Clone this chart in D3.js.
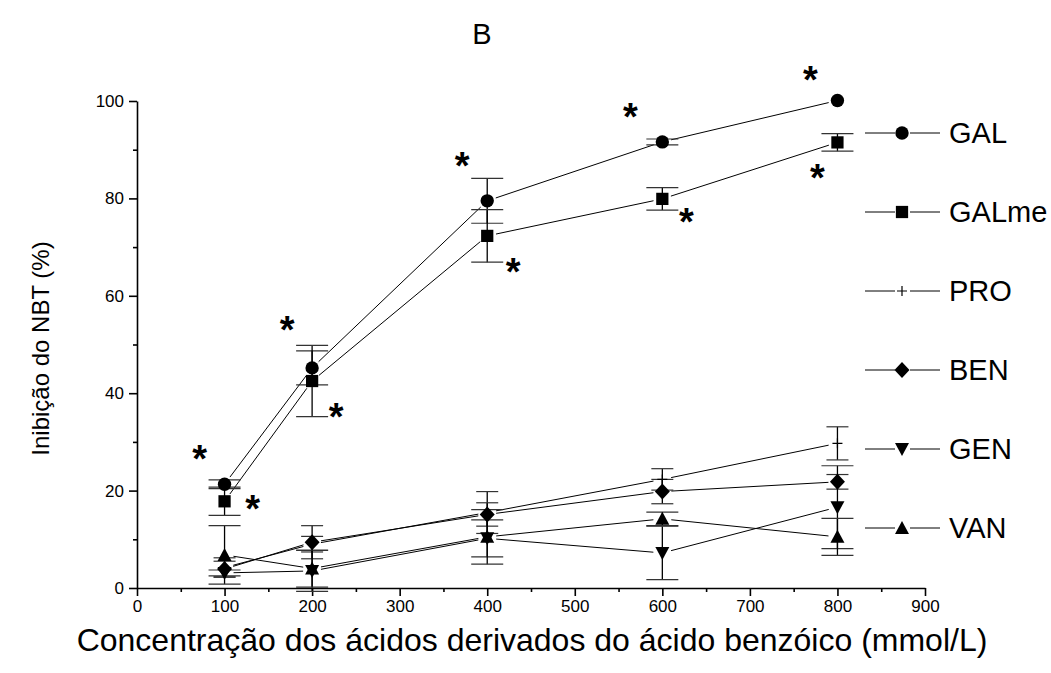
<!DOCTYPE html>
<html>
<head>
<meta charset="utf-8">
<script src="https://cdn.jsdelivr.net/npm/d3@7"></script>
<style>
  html, body { margin: 0; padding: 0; background: #fff; }
  svg { display: block; font-family: "Liberation Sans", Arial, sans-serif; }
</style>
</head>
<body>
<svg id="chart" width="1051" height="673"></svg>
<script>
// ---- data ----
const concentrations = [100, 200, 400, 600, 800];
const seriesNames = ["GAL", "GALme", "PRO", "BEN", "GEN", "VAN"];
const GAL      = [21.3, 45.2, 79.5, 91.6, 100.1];
const GAL_err  = [0.9, 3.5, 4.6, 0.6, 0];
const GALme     = [17.8, 42.5, 72.3, 79.9, 91.5];
const GALme_err = [2.9, 7.3, 5.4, 2.3, 1.8];
const PRO      = [4.2, 9.0, 15.5, 22.3, 29.7];
const PRO_err  = [2.0, 1.6, 4.3, 2.2, 3.4];
const BEN      = [3.9, 9.4, 15.1, 19.8, 21.8];
const BEN_err  = [1.6, 3.4, 2.4, 2.5, 1.5];
const GEN      = [3.1, 3.5, 10.2, 7.2, 16.6];
const GEN_err  = [0.6, 4.2, 3.8, 5.5, 8.5];
const VAN      = [6.8, 4.0, 10.5, 14.2, 10.5];
const VAN_err  = [6.0, 3.8, 5.6, 1.4, 3.8];
const xTicks = [0, 100, 200, 300, 400, 500, 600, 700, 800, 900];
const yTicks = [0, 20, 40, 60, 80, 100];
const titleText = "B";
const xTitle = "Concentração dos ácidos derivados do ácido benzóico (mmol/L)";
const yTitle = "Inibição do NBT (%)";
// significance marks (series, point index)
const significance = [
  ["GAL", 0], ["GALme", 0], ["GAL", 1], ["GALme", 1], ["GAL", 2], ["GALme", 2],
  ["GAL", 3], ["GALme", 3], ["GAL", 4], ["GALme", 4]
];

const values = { GAL, GALme, PRO, BEN, GEN, VAN };
const errors = { GAL: GAL_err, GALme: GALme_err, PRO: PRO_err, BEN: BEN_err, GEN: GEN_err, VAN: VAN_err };

// ---- styles ----
const capHalf = { GAL: 16, GALme: 16, PRO: 11, BEN: 11, GEN: 16, VAN: 16 };
// offsets (px) of the asterisks relative to their point
const starOffset = {
  "GAL0": [-25, -34], "GALme0": [28, -1],
  "GAL1": [-25, -47], "GALme1": [24, 27],
  "GAL2": [-25, -44], "GALme2": [26, 27],
  "GAL3": [-32, -34], "GALme3": [24, 14],
  "GAL4": [-27, -30], "GALme4": [-20, 27]
};

const svg = d3.select("#chart");
const x = d3.scaleLinear().domain([0, 900]).range([137, 925]);
const y = d3.scaleLinear().domain([0, 100]).range([588, 101]);

function markerPath(name) {
  if (name === "GEN") return "M-7,-6L7,-6L0,7Z";
  if (name === "VAN") return "M-7,6L7,6L0,-7Z";
  if (name === "GAL") return d3.symbol(d3.symbolCircle, 140)();
  if (name === "GALme") return d3.symbol(d3.symbolSquare, 150)();
  if (name === "BEN") return "M0,-8L7.5,0L0,8L-7.5,0Z";
  return null;
}
function drawMarker(g, name, cx, cy) {
  if (name === "PRO") {
    g.append("path").attr("d", `M${cx-5},${cy}H${cx+5}M${cx},${cy-5}V${cy+5}`)
      .attr("stroke", "#000").attr("stroke-width", 1.2).attr("fill", "none");
  } else {
    g.append("path").attr("d", markerPath(name)).attr("transform", `translate(${cx},${cy})`)
      .attr("fill", "#000");
  }
}

// ---- axes ----
const xAxisG = svg.append("g").attr("transform", `translate(0,${y(0)})`);
xAxisG.call(d3.axisBottom(x).tickValues(xTicks).tickSize(8).tickSizeOuter(0).tickPadding(4));
const xMinor = svg.append("g").attr("transform", `translate(0,${y(0)})`);
xMinor.call(d3.axisBottom(x).tickValues(d3.range(50, 900, 100)).tickSize(4).tickFormat(""));
xMinor.select(".domain").remove();

const yAxisG = svg.append("g").attr("transform", `translate(${x(0)},0)`);
yAxisG.call(d3.axisLeft(y).tickValues(yTicks).tickSize(8).tickSizeOuter(0).tickPadding(5));
const yMinor = svg.append("g").attr("transform", `translate(${x(0)},0)`);
yMinor.call(d3.axisLeft(y).tickValues(d3.range(10, 100, 20)).tickSize(4).tickFormat(""));
yMinor.select(".domain").remove();

svg.selectAll(".domain, .tick line").attr("stroke", "#000").attr("stroke-width", 1.6);
svg.selectAll(".tick text").attr("font-size", 17).attr("fill", "#000")
  .attr("font-family", "'Liberation Sans', Arial, sans-serif");

// titles
svg.append("text").attr("x", 482).attr("y", 44).attr("text-anchor", "middle")
  .attr("font-size", 29).text(titleText);
svg.append("text").attr("x", 532).attr("y", 651).attr("text-anchor", "middle")
  .attr("font-size", 32).text(xTitle);
svg.append("text").attr("transform", `translate(49,${(y(0)+y(100))/2 + 4}) rotate(-90)`)
  .attr("text-anchor", "middle").attr("font-size", 24).text(yTitle);

// ---- plot ----
const plot = svg.append("g");
const gap = 9;
seriesNames.forEach(name => {
  const vals = values[name];
  const pts = concentrations.map((c, i) => [x(c), y(vals[i])]);
  for (let i = 0; i < pts.length - 1; i++) {
    const [x1, y1] = pts[i], [x2, y2] = pts[i + 1];
    const dx = x2 - x1, dy = y2 - y1, L = Math.hypot(dx, dy);
    if (L <= 2 * gap) continue;
    const ux = dx / L, uy = dy / L;
    plot.append("line")
      .attr("x1", x1 + ux * gap).attr("y1", y1 + uy * gap)
      .attr("x2", x2 - ux * gap).attr("y2", y2 - uy * gap)
      .attr("stroke", "#000").attr("stroke-width", 1);
  }
});
// error bars
seriesNames.forEach(name => {
  const vals = values[name], errs = errors[name];
  concentrations.forEach((c, i) => {
    if (!errs[i]) return;
    const cx = x(c), top = y(vals[i] + errs[i]), bot = y(Math.max(vals[i] - errs[i], -1));
    plot.append("line").attr("x1", cx).attr("x2", cx).attr("y1", top).attr("y2", bot)
      .attr("stroke", "#000").attr("stroke-width", 1.3);
    [top, bot].forEach(yy => {
      plot.append("line").attr("x1", cx - capHalf[name]).attr("x2", cx + capHalf[name])
        .attr("y1", yy).attr("y2", yy).attr("stroke", "#333").attr("stroke-width", 1.2);
    });
  });
});
// markers
seriesNames.forEach(name => {
  const vals = values[name];
  concentrations.forEach((c, i) => drawMarker(plot, name, x(c), y(vals[i])));
});
// asterisks
significance.forEach(([name, i]) => {
  const off = starOffset[name + i];
  const cx = x(concentrations[i]) + off[0];
  const cy = y(values[name][i]) + off[1];
  svg.append("text").attr("x", cx).attr("y", cy + 22).attr("text-anchor", "middle")
    .attr("font-size", 38).attr("font-weight", "bold").text("*");
});

// ---- legend ----
const legend = svg.append("g");
seriesNames.forEach((name, k) => {
  const ly = 133 + k * 79;
  legend.append("line").attr("x1", 865).attr("x2", 895).attr("y1", ly).attr("y2", ly)
    .attr("stroke", "#000").attr("stroke-width", 1);
  legend.append("line").attr("x1", 910).attr("x2", 940).attr("y1", ly).attr("y2", ly)
    .attr("stroke", "#000").attr("stroke-width", 1);
  drawMarker(legend, name, 902, ly);
  legend.append("text").attr("x", 949).attr("y", ly + 10).attr("font-size", 29).text(name);
});
</script>
</body>
</html>
